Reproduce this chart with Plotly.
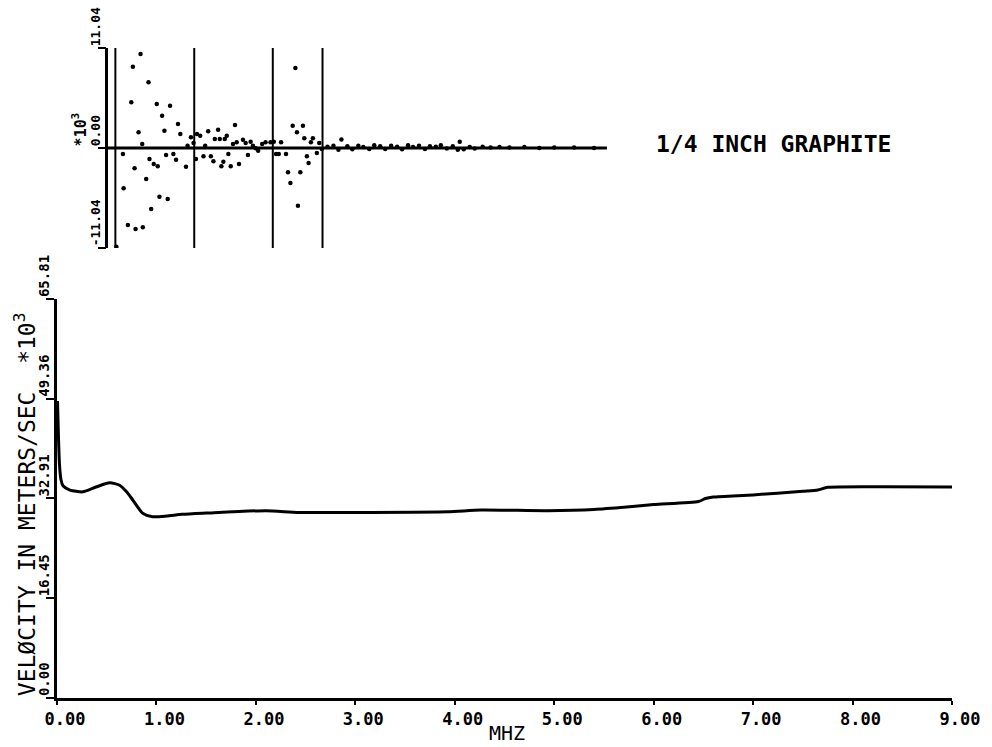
import plotly.graph_objects as go

# ---------------- data ----------------
# bottom panel: velocity curve (MHz, velocity *10^3 m/s)
freq_mhz = [0.005, 0.015, 0.025, 0.04, 0.06, 0.13, 0.26, 0.40, 0.53, 0.63, 0.70, 0.76,
            0.86, 0.96, 1.10, 1.26, 1.50, 2.10, 2.43, 3.10, 3.93, 4.26, 4.93, 5.40,
            5.73, 6.00, 6.45, 6.52, 6.60, 7.00, 7.50, 7.65, 7.75, 8.30, 9.00]
velocity = [49.0, 43.0, 38.5, 36.0, 35.0, 34.3, 34.0, 34.85, 35.5, 35.1, 34.0, 32.7,
            30.5, 29.9, 30.0, 30.3, 30.5, 30.9, 30.6, 30.6, 30.7, 31.0, 30.9, 31.1,
            31.5, 31.9, 32.4, 32.9, 33.15, 33.5, 34.1, 34.3, 34.75, 34.85, 34.8]

# top panel: residual scatter (MHz, *10^3)
resid_x = [0.597, 0.663, 0.67, 0.713, 0.747, 0.763, 0.78, 0.79, 0.82, 0.84, 0.857, 0.863,
           0.897, 0.92, 0.93, 0.947, 0.973, 1.003, 1.013, 1.03, 1.057, 1.08, 1.097, 1.113,
           1.137, 1.17, 1.197, 1.217, 1.24, 1.297, 1.313, 1.347, 1.373, 1.397, 1.407, 1.44,
           1.473, 1.49, 1.52, 1.547, 1.573, 1.587, 1.62, 1.637, 1.653, 1.673, 1.687, 1.707,
           1.723, 1.747, 1.77, 1.79, 1.807, 1.83, 1.87, 1.897, 1.92, 1.947, 1.97, 1.997,
           2.023, 2.063, 2.097, 2.147, 2.18, 2.203, 2.23, 2.253, 2.303, 2.323, 2.347, 2.37,
           2.397, 2.413, 2.423, 2.447, 2.473, 2.487, 2.513, 2.53, 2.553, 2.573, 2.613, 2.637,
           2.663, 2.72, 2.78, 2.83, 2.86, 2.92, 2.97, 3.03, 3.08, 3.14, 3.19, 3.25, 3.30,
           3.36, 3.42, 3.47, 3.53, 3.58, 3.64, 3.70, 3.75, 3.81, 3.86, 3.92, 3.98, 4.03,
           4.05, 4.09, 4.15, 4.20, 4.28, 4.36, 4.45, 4.55, 4.70, 4.85, 5.00, 5.20, 5.40]
resid_y = [-10.9, -0.66, -4.45, -8.5, 5.04, 8.98, -2.24, -8.94, 1.73, 10.38, 0.44, -8.76,
           -3.42, 7.25, -1.21, -6.73, -1.77, 4.86, -2.02, -5.37, 3.57, 1.91, -0.77, -5.63,
           4.67, -0.66, -1.29, 2.65, 1.55, -2.06, 0.26, 1.18, 0.55, -1.21, 1.55, 1.36,
           -0.92, 0.26, 1.84, -0.92, -1.47, 0.99, 2.02, 0.99, -2.02, -1.51, 0.99, 1.36,
           -0.66, -2.02, 0.44, 2.54, 0.63, -1.77, 0.92, 0.55, -0.77, 0.70, 0.26, -0.04,
           -0.29, 0.44, 0.63, 0.63, 0.70, -0.66, -0.66, 0.63, -0.66, -2.69, -3.86, 2.47,
           8.83, 1.73, -6.37, -2.69, 2.47, 1.07, -0.92, -1.66, 0.63, 1.07, -0.55, 0.55,
           -0.11, 0.15, 0.25, -0.2, 0.95, 0.2, -0.15, 0.25, 0.1, -0.1, 0.3, 0.2, -0.1,
           0.25, 0.15, -0.15, 0.3, 0.1, 0.25, -0.1, 0.2, 0.15, 0.3, -0.05, 0.2, -0.2,
           0.7, -0.15, 0.1, -0.05, 0.15, 0.05, 0.1, 0.05, 0.1, 0.0, 0.05, 0.05, 0.0]

zero_line_x = [0.497, 5.53]
zero_line_y = [0.0, 0.0]
vline_x = [0.587, 1.38, 2.17, 2.67]

# axes ticks / labels
x_tickvals = [0, 1, 2, 3, 4, 5, 6, 7, 8, 9]
x_ticktext = ["0.00", "1.00", "2.00", "3.00", "4.00", "5.00", "6.00", "7.00", "8.00", "9.00"]
y_tickvals = [0.0, 16.45, 32.91, 49.36, 65.81]
y_ticktext = ["0.00", "16.45", "32.91", "49.36", "65.81"]
top_tickvals = [-11.04, 0.0, 11.04]
top_ticktext = ["-11.04", "0.00", "11.04"]

# ---------------- layout geometry ----------------
W, H = 992, 747
PL, PR, PT, PB = 57, 957, 48, 698          # plot area in page pixels
ML, MR, MT, MB = PL, W - PR, PT, H - PB
PW, PH = PR - PL, PB - PT
def px_x(px):
    return (px - PL) / PW
def px_y(py):
    return (PB - py) / PH

bottom_dom = [0.0, px_y(299)]
top_dom = [px_y(248), 1.0]

FONT = "DejaVu Sans Mono"
BLACK = "#000000"

fig = go.Figure()

fig.add_trace(go.Scatter(x=freq_mhz, y=velocity, mode="lines",
                         line=dict(color=BLACK, width=3, shape="spline", smoothing=0.6),
                         xaxis="x", yaxis="y", showlegend=False, hoverinfo="skip"))

fig.add_trace(go.Scatter(x=zero_line_x, y=zero_line_y, mode="lines",
                         line=dict(color=BLACK, width=3),
                         xaxis="x2", yaxis="y2", showlegend=False, hoverinfo="skip"))
for vx in vline_x:
    fig.add_trace(go.Scatter(x=[vx, vx], y=[top_tickvals[0], top_tickvals[-1]], mode="lines",
                             line=dict(color=BLACK, width=2),
                             xaxis="x2", yaxis="y2", showlegend=False, hoverinfo="skip"))
fig.add_trace(go.Scatter(x=resid_x, y=resid_y, mode="markers",
                         marker=dict(color=BLACK, size=4.5),
                         xaxis="x2", yaxis="y2", showlegend=False, hoverinfo="skip"))

annotations = []
# bottom y tick labels
for v, t in zip(y_tickvals, y_ticktext):
    annotations.append(dict(x=px_x(44), y=v, xref="paper", yref="y", text=t, textangle=-90,
                            showarrow=False, xanchor="center", yanchor="bottom",
                            font=dict(family=FONT, size=14, color=BLACK, weight="bold")))
# top y tick labels
for v, t in zip(top_tickvals, top_ticktext):
    annotations.append(dict(x=px_x(96), y=v, xref="paper", yref="y2", text=t, textangle=-90,
                            showarrow=False, xanchor="center", yanchor="bottom",
                            font=dict(family=FONT, size=13, color=BLACK, weight="bold")))
annotations.append(dict(x=px_x(79), y=0.0, xref="paper", yref="y2", text="*10<sup>3</sup>",
                        textangle=-90, showarrow=False, xanchor="center", yanchor="bottom",
                        font=dict(family=FONT, size=15, color=BLACK, weight="bold")))
annotations.append(dict(x=px_x(25), y=0.0, xref="paper", yref="y",
                        text="VELØCITY IN METERS/SEC  *10<sup>3</sup>",
                        textangle=-90, showarrow=False, xanchor="center", yanchor="bottom",
                        font=dict(family=FONT, size=23, color=BLACK)))
annotations.append(dict(x=px_x(510), y=px_y(733), xref="paper", yref="paper", text="MHZ",
                        showarrow=False, xanchor="center", yanchor="middle",
                        font=dict(family=FONT, size=20, color=BLACK)))
annotations.append(dict(x=px_x(777), y=px_y(144), xref="paper", yref="paper",
                        text="1/4 INCH GRAPHITE", showarrow=False,
                        xanchor="center", yanchor="middle",
                        font=dict(family=FONT, size=23, color=BLACK, weight="bold")))

fig.update_layout(
    width=W, height=H,
    margin=dict(l=ML, r=MR, t=MT, b=MB),
    paper_bgcolor="white", plot_bgcolor="white",
    showlegend=False,
    xaxis=dict(domain=[0, 1], range=[0, 9], anchor="y",
               showline=True, linecolor=BLACK, linewidth=3,
               ticks="outside", ticklen=4, tickwidth=2, tickcolor=BLACK,
               tickvals=x_tickvals, ticktext=x_ticktext, ticklabelshift=8,
               tickfont=dict(family=FONT, size=17, color=BLACK, weight="bold"),
               showgrid=False, zeroline=False),
    yaxis=dict(domain=bottom_dom, range=[0, 65.81], anchor="x",
               showline=True, linecolor=BLACK, linewidth=3,
               ticks="outside", ticklen=8, tickwidth=2, tickcolor=BLACK,
               tickvals=y_tickvals, showticklabels=False,
               showgrid=False, zeroline=False),
    xaxis2=dict(domain=[0, 1], range=[0, 9], anchor="y2", visible=False),
    yaxis2=dict(domain=top_dom, range=[-11.04, 11.04], anchor="free", position=px_x(106.7),
                showline=True, linecolor=BLACK, linewidth=2.5,
                ticks="outside", ticklen=8, tickwidth=2, tickcolor=BLACK,
                tickvals=top_tickvals, showticklabels=False,
                showgrid=False, zeroline=False),
    annotations=annotations,
)

fig.write_html(
    "out.html",
    config={"displayModeBar": False, "responsive": False},
    post_script="document.body.style.margin='0px';document.body.style.overflow='hidden';",
)
